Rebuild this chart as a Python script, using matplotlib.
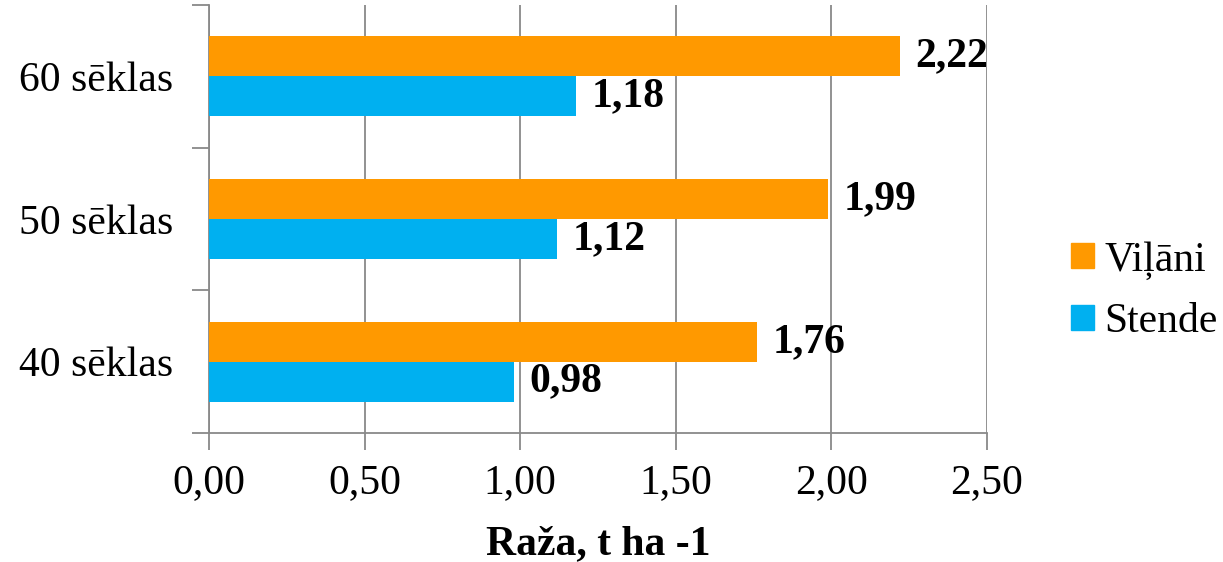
""" Raža pēc izsējas normas
"""

import matplotlib.pyplot as plt
from matplotlib.patches import Patch

# Data
categories = ['40 sēklas', '50 sēklas', '60 sēklas']
vilani = [1.76, 1.99, 2.22]
stende = [0.98, 1.12, 1.18]
x_ticks = [0.0, 0.5, 1.0, 1.5, 2.0, 2.5]


def fmt(v):
    return f'{v:.2f}'.replace('.', ',')


def main():
    plt.rcParams['font.family'] = ['Liberation Serif', 'DejaVu Serif']
    fig = plt.figure(figsize=(12.23, 5.62), dpi=100)
    ax = fig.add_axes([0.1709, 0.2295, 0.636, 0.7615])

    orange = '#FF9900'
    blue = '#00B0F0'
    grey = '#898989'
    h = 0.28
    pos = list(range(len(categories)))

    b1 = ax.barh([p + h / 2 for p in pos], vilani, height=h, color=orange, zorder=3)
    b2 = ax.barh([p - h / 2 for p in pos], stende, height=h, color=blue, zorder=3)

    for bars, vals in ((b1, vilani), (b2, stende)):
        for bar, v in zip(bars, vals):
            ax.text(v + 0.05, bar.get_y() + bar.get_height() / 2, fmt(v),
                    va='center', ha='left', fontsize=30, fontweight='bold')

    ax.set_xlim(0, 2.5)
    ax.set_ylim(-0.5, 2.5)
    ax.set_xticks(x_ticks)
    ax.set_xticklabels([fmt(v) for v in x_ticks], fontsize=30)
    ax.set_yticks([-0.5, 0.5, 1.5, 2.5])
    ax.set_yticklabels([])
    ax.set_yticks(pos, minor=True)
    ax.set_yticklabels(categories, minor=True, fontsize=30)
    ax.tick_params(axis='y', which='minor', length=0, pad=26)
    ax.tick_params(axis='y', which='major', length=12, width=1.3, color=grey)
    ax.tick_params(axis='x', length=12, width=1.3, color=grey, pad=10)

    ax.grid(axis='x', color=grey, linewidth=1.3, zorder=0)
    for s in ('top', 'right'):
        ax.spines[s].set_visible(False)
    for s in ('left', 'bottom'):
        ax.spines[s].set_color(grey)
        ax.spines[s].set_linewidth(1.3)

    ax.set_xlabel('Raža, t ha -1', fontsize=30, fontweight='bold', labelpad=17)

    handles = [Patch(color=orange, label='Viļāni'), Patch(color=blue, label='Stende')]
    fig.legend(handles=handles, loc='center left', bbox_to_anchor=(0.862, 0.482),
               frameon=False, fontsize=30, handlelength=0.55, handleheight=0.55,
               handletextpad=0.25, labelspacing=0.55, borderaxespad=0)

    fig.savefig('out.png', dpi=100)


if __name__ == '__main__':
    main()
